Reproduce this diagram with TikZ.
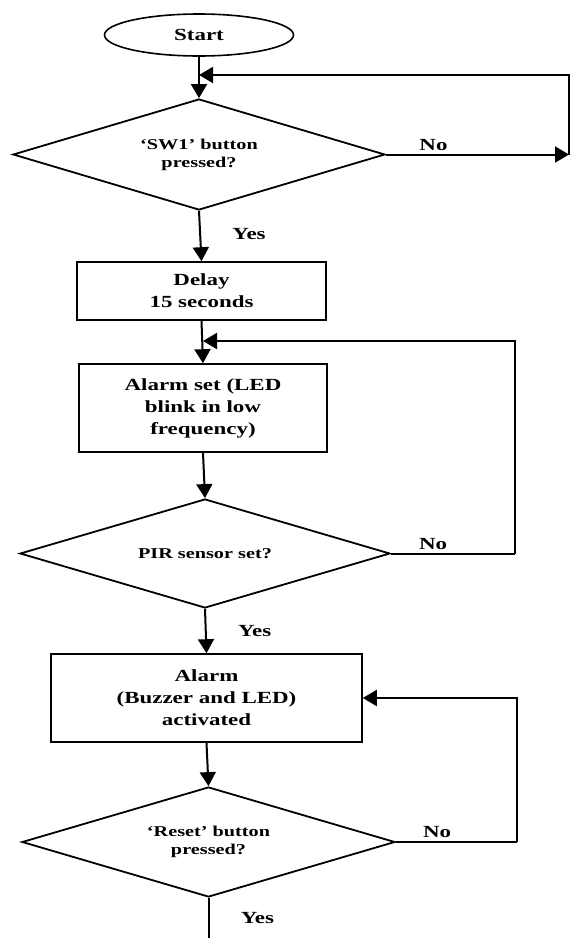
\documentclass[tikz,border=0pt]{standalone}
\usepackage{fontspec}
\setmainfont{Liberation Serif}[FakeStretch=1.35]
\usetikzlibrary{arrows.meta,shapes.geometric}

\begin{document}
\begin{tikzpicture}[x=1pt, y=-1pt, >={Triangle[length=14pt,width=16pt]},
	every node/.style={font=\fontsize{17}{22}\selectfont\bfseries},
	term/.style={draw, ellipse, line width=1.6pt, minimum width=189pt, minimum height=42pt, inner sep=0pt, font=\fontsize{17}{20}\selectfont\bfseries},
	box/.style={draw, rectangle, line width=1.6pt, align=center, inner sep=0pt},
	decision/.style={draw, diamond, aspect=3.35, line width=1.8pt, align=center, inner sep=0pt, font=\fontsize{15}{18}\selectfont\bfseries},
	flow/.style={line width=2pt}]
	\useasboundingbox (0,0) rectangle (570,938);
	\node[term] (start) at (199,35) {Start};
	\node[decision, minimum width=372pt, minimum height=111pt] (sw1) at (199,154.5) {`SW1' button\\pressed?};
	\node[box, minimum width=249pt, minimum height=58pt] (delay) at (201.5,291) {Delay\\15 seconds};
	\node[box, minimum width=248pt, minimum height=88pt] (aset) at (203,408) {Alarm set (LED\\blink in low\\frequency)};
	\node[decision, minimum width=370pt, minimum height=109pt] (pir) at (205,553.5) {PIR sensor set?};
	\node[box, minimum width=311pt, minimum height=88pt] (alarm) at (206.5,698) {Alarm\\(Buzzer and LED)\\activated};
	\node[decision, minimum width=373pt, minimum height=110pt] (reset) at (208.5,842) {`Reset' button\\pressed?};
	% loop-back corners
	\coordinate (j1) at (199,75);
	\coordinate (r1a) at (569,154.5);
	\coordinate (r1b) at (569,75);
	\coordinate (j2) at (203,341);
	\coordinate (r2a) at (515,553.5);
	\coordinate (r2b) at (515,341);
	\coordinate (r3a) at (517,842);
	\coordinate (r3b) at (517,698);
	\coordinate (fin) at (208.5,938);
	% main flow
	\draw[flow,->] (start.south) -- (sw1.north);
	\draw[flow,->] (sw1.south) -- (delay.north) node[pos=0.45, right=28pt] (yes1) {Yes};
	\draw[flow,->] (delay.south) -- (aset.north);
	\draw[flow,->] (aset.south) -- (pir.north);
	\draw[flow,->] (pir.south) -- (alarm.north) node[pos=0.5, right=28pt] (yes2) {Yes};
	\draw[flow,->] (alarm.south) -- (reset.north);
	\draw[flow] (reset.south) -- (fin) node[pos=0.5, right=28pt] (yes3) {Yes};
	% "No" branches
	\draw[flow,->] (sw1.east) -- (r1a) node[pos=0.26, above] (no1) {No};
	\draw[flow,->] (r1a) -- (r1b) -- (j1);
	\draw[flow] (pir.east) -- (r2a) node[pos=0.34, above] (no2) {No};
	\draw[flow,->] (r2a) -- (r2b) -- (j2);
	\draw[flow] (reset.east) -- (r3a) node[pos=0.34, above] (no3) {No};
	\draw[flow,->] (r3a) -- (r3b) -- (alarm.east);
\end{tikzpicture}
\end{document}
